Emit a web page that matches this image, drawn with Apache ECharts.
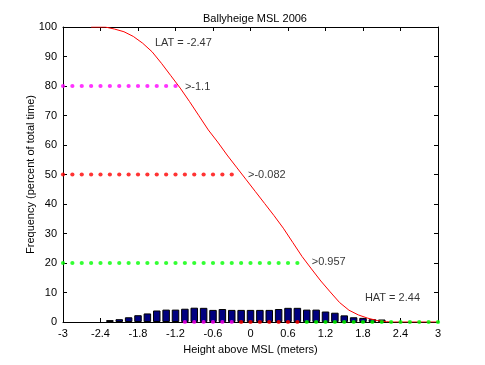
<!DOCTYPE html>
<html>
<head>
<meta charset="utf-8">
<script src="https://cdn.jsdelivr.net/npm/echarts@6/dist/echarts.min.js"></script>
<style>html,body{margin:0;padding:0;background:#fff;}#c{width:485px;height:365px;}</style>
</head>
<body>
<div id="c"></div>
<script>
// ---- data ----
const titleText = 'Ballyheige MSL 2006';
const xName = 'Height above MSL (meters)';
const yName = 'Frequency (percent of total time)';

const barCenters = [-2.25,-2.1,-1.95,-1.8,-1.65,-1.5,-1.35,-1.2,-1.05,-0.9,-0.75,-0.6,-0.45,-0.3,-0.15,0,0.15,0.3,0.45,0.6,0.75,0.9,1.05,1.2,1.35,1.5,1.65,1.8,1.95,2.1];
const barHeights = [0.65,0.95,1.6,2.3,2.9,3.9,4.2,4.2,4.5,4.85,4.8,4.1,4.4,4.1,4.1,4.1,4.1,4.1,4.4,4.8,4.8,4.2,4.2,3.55,3.15,2.25,1.6,1.4,0.95,0.85];

const curveX = [-2.55,-2.325,-2.175,-2.025,-1.875,-1.725,-1.575,-1.425,-1.275,-1.125,-0.975,-0.825,-0.675,-0.525,-0.375,-0.225,-0.075,0.075,0.225,0.375,0.525,0.675,0.825,0.975,1.125,1.275,1.425,1.575,1.725,1.875,2.025,2.175,2.3,3];
const curveY = [100,100,99.3,98.4,96.8,94.5,91.6,87.7,83.5,79.3,74.7,69.9,65.1,61.0,56.6,52.5,48.4,44.3,40.2,36.1,31.8,27.0,22.2,18.0,13.9,10.2,6.6,4.0,2.4,1.3,0.5,0.1,0,0];

const magentaLevel = 80;
const magentaLineX = [-3,-2.85,-2.7,-2.55,-2.4,-2.25,-2.1,-1.95,-1.8,-1.65,-1.5,-1.35,-1.2];
const redLevel = 50;
const redLineX = [-3,-2.85,-2.7,-2.55,-2.4,-2.25,-2.1,-1.95,-1.8,-1.65,-1.5,-1.35,-1.2,-1.05,-0.9,-0.75,-0.6,-0.45,-0.3];
const greenLevel = 20;
const greenLineX = [-3,-2.85,-2.7,-2.55,-2.4,-2.25,-2.1,-1.95,-1.8,-1.65,-1.5,-1.35,-1.2,-1.05,-0.9,-0.75,-0.6,-0.45,-0.3,-0.15,0,0.15,0.3,0.45,0.6,0.75];

const magentaBaseX = [-1.05,-0.9,-0.75,-0.6,-0.45,-0.3];
const redBaseX = [-0.15,0,0.15,0.3,0.45,0.6,0.75];
const greenBaseX = [0.9,1.05,1.2,1.35,1.5,1.65,1.8,1.95,2.1,2.25,2.4,2.55,2.7,2.85,3];

const annText = ['LAT = -2.47','>-1.1','>-0.082','>0.957','HAT = 2.44'];
const annX = [-1.53,-1.05,-0.04,0.98,1.83];
const annY = [94.6,79.6,49.8,20.2,8.2];

// ---- chart ----
const font = 'Liberation Sans, Arial, Helvetica, sans-serif';
const chart = echarts.init(document.getElementById('c'), null, {renderer:'canvas'});
const zip = (xs, ys) => xs.map((x,i)=>[x, ys[i]]);
const level = (xs, v) => xs.map(x=>[x, v]);
const dotSeries = (data, color) => ({
  type:'scatter', data, symbol:'circle', symbolSize:4.2,
  itemStyle:{color}, z:5, silent:true
});
const axisCommon = {
  axisLine:{show:true, onZero:false, lineStyle:{color:'#000', width:1}},
  axisTick:{show:true, inside:true, length:4, lineStyle:{color:'#000'}},
  splitLine:{show:false}
};
chart.setOption({
  animation:false,
  backgroundColor:'#fff',
  title:{text:titleText, left:250, textAlign:'center', top:8,
    textStyle:{fontFamily:font, fontSize:11, fontWeight:'normal', color:'#000'}},
  grid:{left:63, right:47, top:27, bottom:43},
  xAxis:[
    Object.assign({type:'value', min:-3, max:3, interval:0.6, position:'bottom',
      name:xName, nameLocation:'middle', nameGap:22, nameMoveOverlap:false,
      nameTextStyle:{fontFamily:font, fontSize:11, color:'#000'},
      axisLabel:{show:true, margin:6, color:'#000', fontFamily:font, fontSize:11}}, axisCommon),
    Object.assign({type:'value', min:-3, max:3, interval:0.6, position:'top',
      axisLabel:{show:false}}, axisCommon)
  ],
  yAxis:[
    Object.assign({type:'value', min:0, max:100, interval:10, position:'left',
      name:yName, nameLocation:'middle', nameGap:27, nameMoveOverlap:false,
      nameTextStyle:{fontFamily:font, fontSize:11, color:'#000'},
      axisLabel:{show:true, margin:6, color:'#000', fontFamily:font, fontSize:11}}, axisCommon),
    Object.assign({type:'value', min:0, max:100, interval:10, position:'right',
      axisLabel:{show:false}}, axisCommon)
  ],
  series:[
    {type:'bar', data:zip(barCenters, barHeights), barWidth:7.5,
      itemStyle:{color:'#000080', borderColor:'#000', borderWidth:1}, z:2, silent:true},
    {type:'line', data:zip(curveX, curveY), showSymbol:false, symbol:'none',
      lineStyle:{color:'#ff0000', width:1}, z:4, silent:true},
    dotSeries(level(magentaLineX, magentaLevel), '#ff00ff'),
    dotSeries(level(redLineX, redLevel), '#ff0000'),
    dotSeries(level(greenLineX, greenLevel), '#00ff00'),
    dotSeries(level(magentaBaseX, 0), '#ff00ff'),
    dotSeries(level(redBaseX, 0), '#ff0000'),
    dotSeries(level(greenBaseX, 0), '#00ff00'),
    {type:'scatter', data:annX.map((x,i)=>({value:[x, annY[i]], name:annText[i]})),
      symbolSize:0, z:6, silent:true,
      label:{show:true, position:'right', distance:0, formatter:p=>p.name,
        color:'#000', fontFamily:font, fontSize:11}}
  ]
});
</script>
</body>
</html>
